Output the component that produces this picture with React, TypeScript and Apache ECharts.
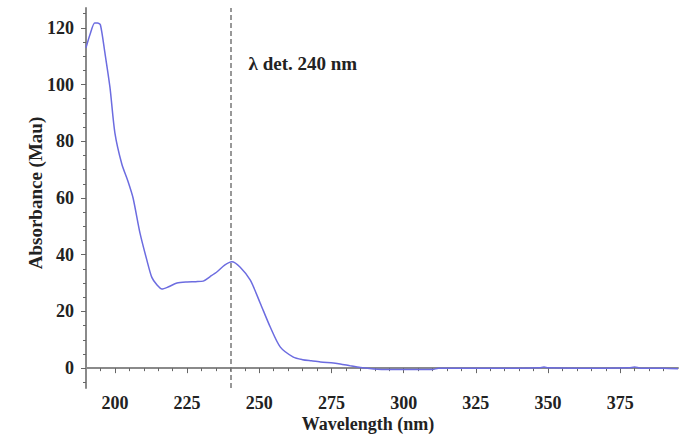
import React, { useEffect, useRef } from "react";
import * as echarts from "echarts";

const wavelength = [190, 191.5, 193, 194, 195, 196.5, 198.3, 200, 202.4, 204.5, 206.3, 208.7, 211.1, 212.8, 214.6, 216.3, 218.4, 221.5, 225, 228, 230.6, 233, 235.4, 238, 240.5, 243.4, 246.9, 250.3, 253.8, 257.3, 261.8, 265, 268, 271.2, 275.7, 278, 281.6, 285, 289.6, 295, 300, 305, 310, 312, 320, 330, 340, 347, 348.6, 350, 360, 370, 378, 380, 382, 390, 395];
const absorbance = [113, 118, 121.7, 121.7, 121, 111.5, 99, 83, 72, 66, 60, 47.6, 38, 32, 29.3, 27.9, 28.6, 30, 30.4, 30.5, 30.7, 32.3, 34, 36.3, 37.5, 35.6, 31, 23, 14.5, 7.4, 3.9, 3, 2.6, 2.2, 1.8, 1.5, 0.8, 0.2, -0.3, -0.5, -0.5, -0.5, -0.5, 0, 0, 0, 0, 0.1, 0.4, 0.1, 0, 0, 0.1, 0.4, 0, 0, -0.2];

const xMajorTicks = [200, 225, 250, 275, 300, 325, 350, 375];
const xMinorTicks = [195, 200, 205, 210, 215, 220, 225, 230, 235, 240, 245, 250, 255, 260, 265, 270, 275, 280, 285, 290, 295, 300, 305, 310, 315, 320, 325, 330, 335, 340, 345, 350, 355, 360, 365, 370, 375, 380, 385, 390];
const yMajorTicks = [0, 20, 40, 60, 80, 100, 120];
const yMinorTicks = [-5, 0, 5, 10, 15, 20, 25, 30, 35, 40, 45, 50, 55, 60, 65, 70, 75, 80, 85, 90, 95, 100, 105, 110, 115, 120, 125];

const detectionWavelength = 240;
const detectionLabel = "λ det. 240 nm";
const xTitle = "Wavelength (nm)";
const yTitle = "Absorbance (Mau)";

const X_MIN = 190, X_MAX = 395, Y_MIN = -7, Y_MAX = 127;

export default function App() {
  const ref = useRef<HTMLDivElement>(null);
  useEffect(() => {
    if (!ref.current) return;
    const chart = echarts.init(ref.current, undefined, { renderer: "svg" });
    const font = "'Liberation Serif', 'Times New Roman', serif";
    const axisColor = "#8a8a8a";
    const base = { color: "#222", fontFamily: font, fontWeight: "bold" as const };
    const data = wavelength.map((w, i) => [w, absorbance[i]]);
    chart.setOption({
      animation: false,
      backgroundColor: "#fff",
      grid: { left: 86, top: 8, right: 10, bottom: 46, containLabel: false },
      xAxis: [
        {
          type: "value", min: X_MIN, max: X_MAX, position: "bottom",
          axisLine: { show: true, lineStyle: { color: axisColor, width: 2 } },
          axisTick: { show: true, length: 3, customValues: xMinorTicks, lineStyle: { color: "#666", width: 1 } },
          axisLabel: { show: false },
          splitLine: { show: false },
        },
        {
          type: "value", min: X_MIN, max: X_MAX, position: "bottom",
          axisLine: { show: false },
          axisTick: { show: true, length: 5, customValues: xMajorTicks, lineStyle: { color: "#666", width: 1 } },
          axisLabel: { show: true, customValues: xMajorTicks, margin: 6, fontSize: 18, ...base },
          splitLine: { show: false },
        },
      ],
      yAxis: [
        {
          type: "value", min: Y_MIN, max: Y_MAX, position: "left",
          axisLine: { show: true, lineStyle: { color: axisColor, width: 2 } },
          axisTick: { show: true, length: 3, customValues: yMinorTicks, lineStyle: { color: "#666", width: 1 } },
          axisLabel: { show: false },
          splitLine: { show: false },
        },
        {
          type: "value", min: Y_MIN, max: Y_MAX, position: "left",
          axisLine: { show: false },
          axisTick: { show: true, length: 5, customValues: yMajorTicks, lineStyle: { color: "#666", width: 1 } },
          axisLabel: { show: true, customValues: yMajorTicks, margin: 12, fontSize: 18, ...base },
          splitLine: { show: false },
        },
      ],
      series: [
        {
          type: "line",
          xAxisIndex: 0, yAxisIndex: 0,
          data,
          smooth: 0.25,
          showSymbol: false,
          lineStyle: { color: "#6c6ce0", width: 1.5 },
          markLine: {
            silent: true,
            symbol: ["none", "none"],
            label: { show: false },
            lineStyle: { color: "#777", type: [5, 3], width: 1.5 },
            data: [{ xAxis: detectionWavelength }],
          },
          markPoint: {
            silent: true,
            symbol: "circle",
            symbolSize: 0,
            data: [{ coord: [detectionWavelength + 6.3, 107.5] }],
            label: {
              show: true, position: "right", distance: 0,
              formatter: detectionLabel,
              fontSize: 19, ...base,
            },
          },
        },
      ],
      graphic: [
        {
          type: "text", x: 35, y: 193, rotation: Math.PI / 2,
          style: { text: yTitle, fill: "#222", font: `bold 19px ${font}`, align: "center", verticalAlign: "middle" },
        },
        {
          type: "text", x: 368, y: 424,
          style: { text: xTitle, fill: "#222", font: `bold 18px ${font}`, align: "center", verticalAlign: "middle" },
        },
      ],
    });
    return () => chart.dispose();
  }, []);
  return <div ref={ref} style={{ width: 688, height: 434, position: "absolute", left: 0, top: 0 }} />;
}
